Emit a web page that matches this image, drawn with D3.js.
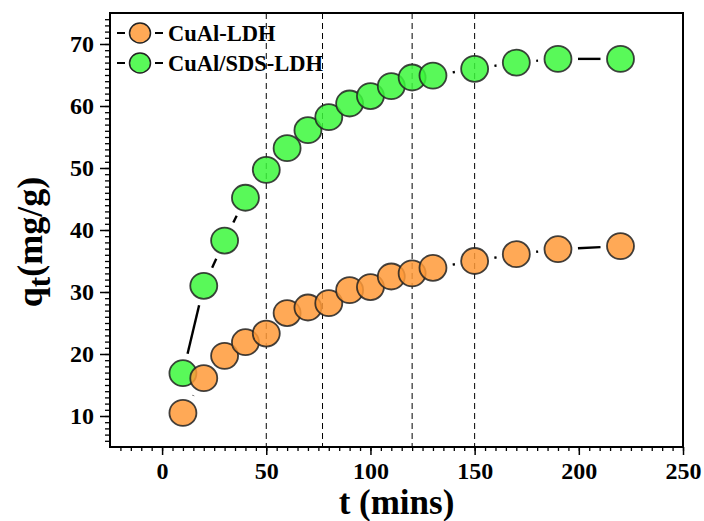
<!DOCTYPE html>
<html>
<head>
<meta charset="utf-8">
<script src="https://cdn.jsdelivr.net/npm/d3@7"></script>
<style>
  body { margin: 0; background: #fff; }
  svg text { font-family: "Liberation Serif", "Times New Roman", serif; font-weight: bold; }
</style>
</head>
<body>
<div id="wrapper"></div>
<script>
// time points (mins)
const times = [10, 20, 30, 40, 50, 60, 70, 80, 90, 100, 110, 120, 130, 150, 170, 190, 220];
// q_t values
const cualLdh = [10.5, 16.1, 19.7, 21.9, 23.3, 26.6, 27.5, 28.2, 30.3, 30.8, 32.5, 33.0, 33.9, 35.0, 36.1, 36.9, 37.4];
const cualSdsLdh = [16.9, 31.0, 38.3, 45.2, 49.7, 53.2, 56.1, 58.2, 60.4, 61.6, 63.2, 64.6, 64.9, 66.0, 67.0, 67.6, 67.6];
const seriesNames = ["CuAl-LDH", "CuAl/SDS-LDH"];
const refLines = [50, 77, 120, 150];
const xTicks = [0, 50, 100, 150, 200, 250];
const yTicks = [10, 20, 30, 40, 50, 60, 70];

const width = 704;
const height = 521;
const margin = { top: 13, right: 21, bottom: 74, left: 110 };

const svg = d3.select("#wrapper")
  .append("svg")
  .attr("width", width)
  .attr("height", height);

const x = d3.scaleLinear()
  .domain([-25, 250])
  .range([margin.left, width - margin.right]);

const y = d3.scaleLinear()
  .domain([5, 75])
  .range([height - margin.bottom, margin.top]);

// vertical dashed reference lines
svg.append("g")
  .selectAll("line")
  .data(refLines)
  .join("line")
    .attr("x1", d => x(d)).attr("x2", d => x(d))
    .attr("y1", y(75)).attr("y2", y(5))
    .attr("stroke", "#000")
    .attr("stroke-width", 1)
    .attr("stroke-dasharray", "6,4");

// minor ticks
const xAxisMinor = g => g
  .attr("transform", `translate(0, ${y(5)})`)
  .call(d3.axisBottom(x).tickValues(d3.range(-20, 251, 5)).tickSize(4).tickFormat(""))
  .call(g => g.select(".domain").remove());
const yAxisMinor = g => g
  .attr("transform", `translate(${x(-25)}, 0)`)
  .call(d3.axisLeft(y).tickValues(d3.range(6, 75, 1)).tickSize(5).tickFormat(""))
  .call(g => g.select(".domain").remove());

// major ticks
const xAxis = g => g
  .attr("transform", `translate(0, ${y(5)})`)
  .call(d3.axisBottom(x).tickValues(xTicks).tickSize(8).tickPadding(7))
  .call(g => g.select(".domain").remove())
  .attr("font-size", "24px");
const yAxis = g => g
  .attr("transform", `translate(${x(-25)}, 0)`)
  .call(d3.axisLeft(y).tickValues(yTicks).tickSize(10).tickPadding(6))
  .call(g => g.select(".domain").remove())
  .attr("font-size", "24px");

svg.append("g").call(xAxisMinor).selectAll("line").attr("stroke-width", 1.3);
svg.append("g").call(yAxisMinor).selectAll("line").attr("stroke-width", 1.3);
svg.append("g").call(xAxis).selectAll("line").attr("stroke-width", 1.5);
svg.append("g").call(yAxis).selectAll("line").attr("stroke-width", 1.5);
svg.selectAll(".tick text")
  .attr("font-family", "Liberation Serif")
  .attr("font-weight", "bold")
  .attr("fill", "#000");

// plot frame
svg.append("rect")
  .attr("x", x(-25)).attr("y", y(75))
  .attr("width", x(250) - x(-25))
  .attr("height", y(5) - y(75))
  .attr("fill", "none")
  .attr("stroke", "#000")
  .attr("stroke-width", 2);

const series = [
  { name: seriesNames[1], values: cualSdsLdh, fill: "#3cf83c" },
  { name: seriesNames[0], values: cualLdh, fill: "#ff9a38" }
];

// connecting lines, with a gap around each symbol
const gap = 20;
series.forEach(s => {
  const pts = times.map((t, i) => [x(t), y(s.values[i])]);
  const segs = d3.pairs(pts).map(([a, b]) => {
    const dx = b[0] - a[0], dy = b[1] - a[1];
    const len = Math.hypot(dx, dy);
    if (len <= 2 * gap) return null;
    const ux = dx / len, uy = dy / len;
    return [a[0] + ux * gap, a[1] + uy * gap, b[0] - ux * gap, b[1] - uy * gap];
  }).filter(d => d);
  svg.append("g")
    .selectAll("line")
    .data(segs)
    .join("line")
      .attr("x1", d => d[0]).attr("y1", d => d[1])
      .attr("x2", d => d[2]).attr("y2", d => d[3])
      .attr("stroke", "#000")
      .attr("stroke-width", 2.4);
});

series.forEach(s => {
  const pts = times.map((t, i) => [t, s.values[i]]);
  svg.append("g")
    .selectAll("ellipse")
    .data(pts)
    .join("ellipse")
      .attr("cx", d => x(d[0]))
      .attr("cy", d => y(d[1]))
      .attr("rx", 13.5)
      .attr("ry", 13)
      .attr("fill", s.fill)
      .attr("fill-opacity", 0.85)
      .attr("stroke", "#222")
      .attr("stroke-opacity", 0.85)
      .attr("stroke-width", 1.8);
});

// legend
const legend = svg.append("g");
[
  { name: seriesNames[0], fill: "#ff9a38", yy: 33 },
  { name: seriesNames[1], fill: "#3cf83c", yy: 63 }
].forEach(d => {
  legend.append("line")
    .attr("x1", 117).attr("x2", 163)
    .attr("y1", d.yy).attr("y2", d.yy)
    .attr("stroke", "#000")
    .attr("stroke-width", 2)
    .attr("stroke-dasharray", "8,30");
  legend.append("ellipse")
    .attr("cx", 140).attr("cy", d.yy)
    .attr("rx", 10.5).attr("ry", 10)
    .attr("fill", d.fill)
    .attr("fill-opacity", 0.85)
    .attr("stroke", "#222")
    .attr("stroke-width", 1.5);
  legend.append("text")
    .attr("x", 168).attr("y", d.yy)
    .attr("dy", "0.35em")
    .attr("font-size", "22.5px")
    .text(d.name);
});

// axis titles
svg.append("text")
  .attr("x", (x(-25) + x(250)) / 2)
  .attr("y", 514)
  .attr("text-anchor", "middle")
  .attr("font-size", "35px")
  .text("t (mins)");

const yTitle = svg.append("text")
  .attr("transform", `translate(42, ${(y(5) + y(75)) / 2 + 12}) rotate(-90)`)
  .attr("text-anchor", "middle")
  .attr("font-size", "36px");
yTitle.append("tspan").text("q");
yTitle.append("tspan").attr("font-size", "31px").attr("dy", "8").text("t");
yTitle.append("tspan").attr("dy", "-8").text("(mg/g)");
</script>
</body>
</html>
